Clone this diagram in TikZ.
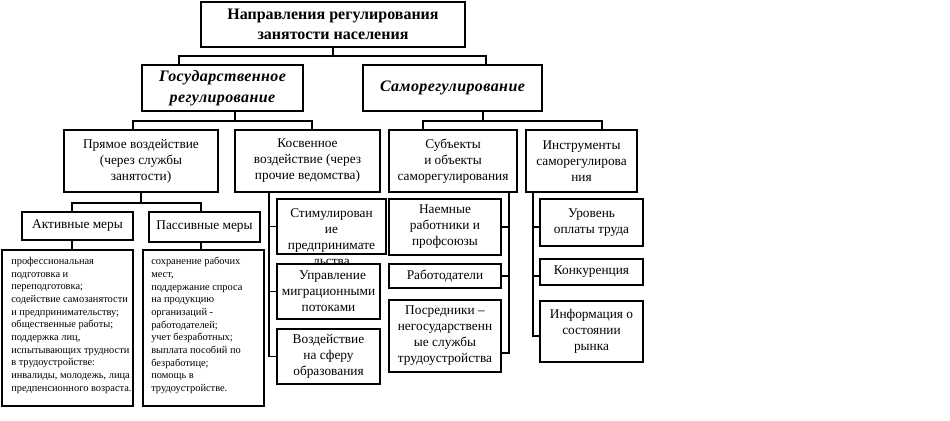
\documentclass[tikz,border=0pt]{standalone}
\usepackage{fontspec}
\setmainfont{Liberation Serif}
\begin{document}
\begin{tikzpicture}[x=0.75pt,y=-0.75pt,
  box/.style={draw, line width=0.9pt, inner sep=0pt, align=center, font=\fontsize{10}{12}\selectfont},
  conn/.style={line width=0.9pt},
  listtxt/.style={inner sep=0pt, anchor=north west, align=left, font=\fontsize{7.8}{9.5}\selectfont},
  bigtxt/.style={font=\fontsize{12}{15}\selectfont\bfseries},
  ittxt/.style={font=\fontsize{12}{15.75}\selectfont\bfseries\itshape\addfontfeature{LetterSpace=2.5}}
]
\useasboundingbox (0,0) rectangle (950,421);

% level 1-2
\node[box, bigtxt, minimum width=198pt, minimum height=33.75pt] (top) at (333,24.5) {Направления регулирования\\занятости населения};
\node[box, ittxt, minimum width=120.75pt, minimum height=34.5pt] (gov) at (222.5,88) {Государственное\\регулирование};
\node[box, ittxt, minimum width=134.25pt, minimum height=34.5pt] (self) at (452.5,88) {Саморегулирование};

% level 3
\node[box, minimum width=115.5pt, minimum height=46.5pt] (pryam) at (141,161) {Прямое воздействие\\(через службы\\занятости)};
\node[box, minimum width=108.75pt, minimum height=46.5pt] (kosv) at (307.5,161) {Косвенное\\воздействие (через\\прочие ведомства)};
\node[box, minimum width=96pt, minimum height=46.5pt] (subj) at (453,161) {Субъекты\\и объекты\\саморегулирования};
\node[box, minimum width=83.25pt, minimum height=46.5pt] (instr) at (581.5,161) {Инструменты\\саморегулирова\\ния};

% level 4 (direct)
\node[box, minimum width=83.25pt, minimum height=21pt] (akt) at (77.5,226) {Активные меры};
\node[box, minimum width=83.25pt, minimum height=22.5pt] (pass) at (204.5,227) {Пассивные меры};
\node[box, minimum width=98.25pt, minimum height=117pt] (listL) at (67.5,328) {};
\node[box, minimum width=90.75pt, minimum height=117pt] (listR) at (203.5,328) {};
\node[listtxt] (listLt) at (11,257) {профессиональная\\подготовка и\\переподготовка;\\содействие самозанятости\\и предпринимательству;\\общественные работы;\\поддержка лиц,\\испытывающих трудности\\в трудоустройстве:\\инвалиды, молодежь, лица\\предпенсионного возраста.};
\node[listtxt] (listRt) at (151,257) {сохранение рабочих\\мест,\\поддержание спроса\\на продукцию\\организаций -\\работодателей;\\учет безработных;\\выплата пособий по\\безработице;\\помощь в\\трудоустройстве.};

% indirect
\node[box, minimum width=81.75pt, minimum height=41.25pt] (stim) at (331.5,226.5) {};
\node[box, draw=none] (stimt) at (331.5,237) {Стимулирован\\ие\\предпринимате\\льства};
\node[box, minimum width=77.25pt, minimum height=41.25pt] (upr) at (328.5,291.5) {\hspace{0.6em}Управление\\миграционными\\потоками};
\node[box, minimum width=77.25pt, minimum height=41.25pt] (vozd) at (328.5,356.5) {Воздействие\\на сферу\\образования};

% subjects
\node[box, minimum width=84pt, minimum height=42pt] (naem) at (445,227) {Наемные\\работники и\\профсоюзы};
\node[box, minimum width=84pt, minimum height=18pt] (rabot) at (445,276) {Работодатели};
\node[box, minimum width=84pt, minimum height=54pt] (posr) at (445,336) {Посредники –\\негосударственн\\ые службы\\трудоустройства};

% instruments
\node[box, minimum width=77.25pt, minimum height=35.25pt] (urov) at (591.5,222.5) {Уровень\\оплаты труда};
\node[box, minimum width=77.25pt, minimum height=19.5pt] (konk) at (591.5,272) {Конкуренция};
\node[box, minimum width=77.25pt, minimum height=45.75pt] (info) at (591.5,331.5) {Информация о\\состоянии\\рынка};

% connector coordinates
\coordinate (topJ) at (333,56);
\coordinate (govIn) at (179,65);
\coordinate (selfIn) at (486,65);
\coordinate (govOut) at (235,111);
\coordinate (govJ) at (235,121);
\coordinate (pryamIn) at (133,130);
\coordinate (kosvIn) at (312,130);
\coordinate (selfOut) at (483,111);
\coordinate (selfJ) at (483,121);
\coordinate (subjIn) at (423,130);
\coordinate (instrIn) at (602,130);
\coordinate (pryJ) at (141,203);
\coordinate (aktIn) at (72,212);
\coordinate (passIn) at (201,212);
\coordinate (kvTop) at (269,192);
\coordinate (svTop) at (509,192);
\coordinate (svBot) at (509,353);
\coordinate (ivTop) at (533,192);
\coordinate (ivBot) at (533,336);

\draw[conn] (top.south) -- (topJ) -| (govIn);
\draw[conn] (topJ) -| (selfIn);
\draw[conn] (govOut) -- (govJ) -| (pryamIn);
\draw[conn] (govJ) -| (kosvIn);
\draw[conn] (selfOut) -- (selfJ) -| (subjIn);
\draw[conn] (selfJ) -| (instrIn);
\draw[conn] (pryam.south) -- (pryJ) -| (aktIn);
\draw[conn] (pryJ) -| (passIn);
\draw[conn] (aktIn |- akt.south) -- (aktIn |- listL.north);
\draw[conn] (passIn |- pass.south) -- (passIn |- listR.north);

\draw[conn] (kvTop) -- (kvTop |- vozd.west) -- (vozd.west);
\draw[conn] (kvTop |- stim.west) -- (stim.west);
\draw[conn] (kvTop |- upr.west) -- (upr.west);

\draw[conn] (svTop) -- (svBot) -- (svBot -| posr.east);
\draw[conn] (svTop |- naem.east) -- (naem.east);
\draw[conn] (svTop |- rabot.east) -- (rabot.east);

\draw[conn] (ivTop) -- (ivBot) -- (ivBot -| info.west);
\draw[conn] (ivTop |- naem.east) -- (urov.west |- naem.east);
\draw[conn] (ivTop |- rabot.east) -- (konk.west |- rabot.east);
\end{tikzpicture}
\end{document}
